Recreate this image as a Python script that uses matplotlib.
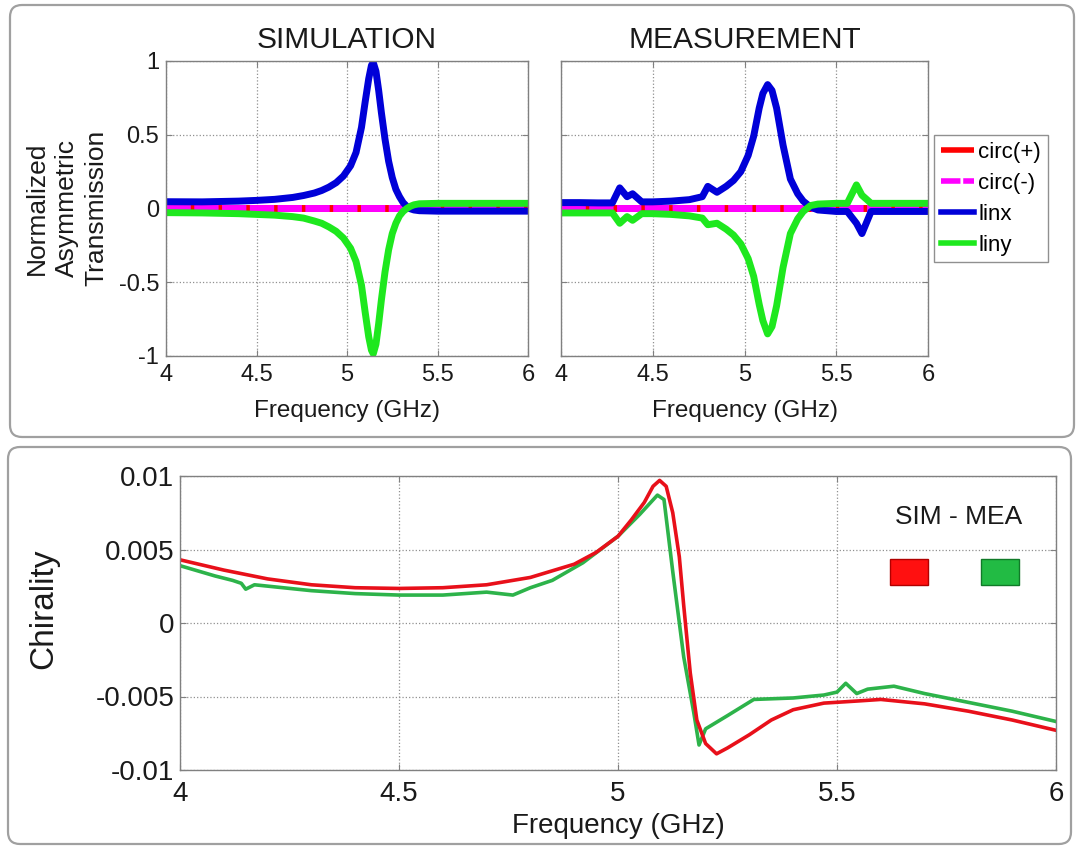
import matplotlib
matplotlib.use("Agg")
import matplotlib.pyplot as plt
from matplotlib.patches import FancyBboxPatch, Rectangle

plt.rcParams['font.family'] = ['Liberation Sans', 'DejaVu Sans']

# ---------------- data ----------------
sim_freq = [4.0, 4.2, 4.4, 4.5, 4.6, 4.7, 4.76, 4.82, 4.86, 4.9, 4.94, 4.98, 5.02, 5.05,
            5.08, 5.1, 5.12, 5.135, 5.145, 5.16, 5.175, 5.19, 5.21, 5.23, 5.25, 5.27,
            5.29, 5.31, 5.33, 5.35, 5.37, 5.4, 5.5, 5.7, 6.0]
sim_linx = [0.046, 0.045, 0.05, 0.055, 0.062, 0.075, 0.088, 0.105, 0.122, 0.145, 0.175,
            0.22, 0.29, 0.38, 0.55, 0.72, 0.88, 0.97, 0.99, 0.93, 0.8, 0.65, 0.47, 0.32,
            0.21, 0.13, 0.08, 0.04, 0.015, -0.002, -0.01, -0.015, -0.018, -0.018, -0.018]
sim_liny = [-0.028, -0.03, -0.035, -0.04, -0.045, -0.055, -0.065, -0.085, -0.1, -0.125,
            -0.155, -0.2, -0.27, -0.36, -0.52, -0.7, -0.87, -0.96, -0.985, -0.92, -0.78,
            -0.62, -0.43, -0.28, -0.17, -0.1, -0.05, -0.02, 0.0, 0.015, 0.025, 0.032,
            0.035, 0.035, 0.035]

circ_freq = [4.0, 6.0]
circ_plus = [0.0, 0.0]
circ_minus = [0.0, 0.0]

mea_freq = [4.0, 4.1, 4.2, 4.28, 4.32, 4.36, 4.39, 4.44, 4.5, 4.6, 4.7, 4.77, 4.8, 4.85,
            4.9, 4.94, 4.98, 5.02, 5.05, 5.08, 5.1, 5.126, 5.15, 5.175, 5.21, 5.25, 5.29,
            5.32, 5.36, 5.4, 5.5, 5.56, 5.61, 5.64, 5.69, 5.75, 6.0]
mea_linx = [0.04, 0.04, 0.038, 0.038, 0.14, 0.08, 0.10, 0.045, 0.045, 0.05, 0.06, 0.08,
            0.15, 0.11, 0.15, 0.19, 0.25, 0.36, 0.49, 0.68, 0.78, 0.84, 0.80, 0.68, 0.43,
            0.20, 0.10, 0.05, 0.01, -0.01, -0.02, -0.02, -0.10, -0.17, -0.02, -0.02, -0.02]
mea_liny = [-0.03, -0.03, -0.03, -0.03, -0.10, -0.055, -0.08, -0.035, -0.035, -0.04,
            -0.05, -0.065, -0.11, -0.10, -0.14, -0.18, -0.24, -0.34, -0.46, -0.65, -0.76,
            -0.85, -0.80, -0.66, -0.40, -0.17, -0.07, -0.02, 0.02, 0.03, 0.035, 0.035,
            0.16, 0.09, 0.035, 0.035, 0.035]

chi_sim_freq = [4.0, 4.1, 4.2, 4.3, 4.4, 4.5, 4.6, 4.7, 4.8, 4.9, 4.95, 5.0, 5.03, 5.06,
                5.08, 5.095, 5.11, 5.125, 5.14, 5.15, 5.165, 5.18, 5.2, 5.225, 5.25, 5.3,
                5.35, 5.4, 5.47, 5.55, 5.6, 5.7, 5.8, 5.9, 6.0]
chi_sim = [0.0043, 0.0036, 0.003, 0.0026, 0.0024, 0.00235, 0.0024, 0.0026, 0.0031, 0.004,
           0.0048, 0.0059, 0.007, 0.0082, 0.0093, 0.0097, 0.0093, 0.0075, 0.0045, 0.0012,
           -0.0034, -0.0066, -0.0082, -0.0089, -0.0085, -0.0076, -0.0066, -0.0059,
           -0.00545, -0.0053, -0.0052, -0.0055, -0.006, -0.0066, -0.0073]

chi_mea_freq = [4.0, 4.08, 4.12, 4.14, 4.15, 4.17, 4.3, 4.4, 4.5, 4.6, 4.7, 4.76, 4.8,
                4.85, 4.92, 4.96, 5.0, 5.05, 5.09, 5.105, 5.125, 5.15, 5.173, 5.185, 5.2,
                5.25, 5.31, 5.4, 5.47, 5.5, 5.52, 5.545, 5.57, 5.63, 5.7, 5.8, 5.9, 6.0]
chi_mea = [0.0039, 0.0032, 0.0029, 0.0027, 0.0023, 0.0026, 0.0022, 0.002, 0.0019, 0.0019,
           0.0021, 0.0019, 0.0024, 0.0029, 0.0041, 0.005, 0.0059, 0.0074, 0.0087, 0.0084,
           0.0035, -0.0023, -0.0061, -0.0083, -0.0072, -0.0063, -0.0052, -0.0051,
           -0.0049, -0.0047, -0.0041, -0.0048, -0.0045, -0.0043, -0.0048, -0.0054,
           -0.006, -0.0067]

freq_ticks = [4, 4.5, 5, 5.5, 6]
freq_ticklabels = ['4', '4.5', '5', '5.5', '6']
at_ticks = [-1, -0.5, 0, 0.5, 1]
at_ticklabels = ['-1', '-0.5', '0', '0.5', '1']
chi_ticks = [-0.01, -0.005, 0, 0.005, 0.01]
chi_ticklabels = ['-0.01', '-0.005', '0', '0.005', '0.01']

# ---------------- figure ----------------
W, H = 1077, 848
fig = plt.figure(figsize=(W / 100, H / 100), dpi=100)


def frac(l, t, r, b):
    return [l / W, 1 - b / H, (r - l) / W, (b - t) / H]


# panel boxes (in inches)
for (l, t, r, b) in [(10, 5, 1074, 437), (8, 447, 1071, 844)]:
    box = FancyBboxPatch((l / 100, (H - b) / 100), (r - l) / 100, (b - t) / 100,
                         boxstyle="round,pad=0,rounding_size=0.12",
                         transform=fig.dpi_scale_trans, facecolor='white',
                         edgecolor='#a0a0a0', linewidth=1.6, zorder=0)
    fig.add_artist(box)

RED = '#ff0000'
MAG = '#ff00ff'
BLUE = '#0000d8'
GREEN = '#1ee81e'
LW = 5.0
grid_kw = dict(color='#909090', linestyle=':', linewidth=0.9)


def style_axes(ax, xsize, ysize):
    ax.set_xlim(4, 6)
    ax.set_xticks(freq_ticks)
    ax.set_xticklabels(freq_ticklabels)
    ax.grid(True, **grid_kw)
    ax.set_axisbelow(True)
    for s in ax.spines.values():
        s.set_color('#808080')
        s.set_linewidth(1.0)
    ax.tick_params(direction='in', top=True, right=True, length=4, width=0.8,
                   color='#808080', labelcolor='#1a1a1a')
    ax.tick_params(axis='x', labelsize=xsize, pad=6)
    ax.tick_params(axis='y', labelsize=ysize, pad=5)


def draw_at(ax, f, lx, ly):
    ax.plot(circ_freq, circ_plus, color=RED, lw=LW, label='circ(+)', solid_capstyle='butt')
    ax.plot(circ_freq, circ_minus, color=MAG, lw=LW, dashes=(3.5, 0.5), label='circ(-)')
    ax.plot(f, lx, color=BLUE, lw=LW, label='linx', solid_joinstyle='round')
    ax.plot(f, ly, color=GREEN, lw=LW, label='liny', solid_joinstyle='round')
    ax.set_ylim(-1, 1)
    ax.set_yticks(at_ticks)


# top-left: simulation
ax1 = fig.add_axes(frac(166, 61, 528, 356))
draw_at(ax1, sim_freq, sim_linx, sim_liny)
style_axes(ax1, 17, 17)
ax1.set_yticklabels(at_ticklabels)
ax1.set_title('SIMULATION', fontsize=21.5, pad=9, color='#1a1a1a')
ax1.set_xlabel('Frequency (GHz)', fontsize=17.5, color='#1a1a1a')
ax1.xaxis.set_label_coords(0.5, -0.15)
fig.text(67 / W, 1 - 208 / H, 'Normalized\nAsymmetric\nTransmission', rotation=90,
         ha='center', va='center', fontsize=19, linespacing=1.3, color='#1a1a1a')

# top-right: measurement
ax2 = fig.add_axes(frac(561, 61, 928, 356))
draw_at(ax2, mea_freq, mea_linx, mea_liny)
style_axes(ax2, 17, 17)
ax2.set_yticklabels([])
ax2.set_title('MEASUREMENT', fontsize=21.5, pad=9, color='#1a1a1a')
ax2.set_xlabel('Frequency (GHz)', fontsize=17.5, color='#1a1a1a')
ax2.xaxis.set_label_coords(0.5, -0.15)

leg = ax2.legend(loc='upper left', bbox_to_anchor=(934 / W, 1 - 135 / H),
                 bbox_transform=fig.transFigure, borderaxespad=0, fontsize=16,
                 frameon=True, fancybox=False, edgecolor='#909090', framealpha=1,
                 handlelength=1.5, handletextpad=0.2, labelspacing=0.45,
                 borderpad=0.3)
leg.get_frame().set_linewidth(1.0)
for h in leg.get_lines():
    h.set_linewidth(4)

# bottom: chirality
ax3 = fig.add_axes(frac(180, 476, 1056, 770))
ax3.plot(chi_mea_freq, chi_mea, color='#2db34a', lw=2.6, solid_joinstyle='round')
ax3.plot(chi_sim_freq, chi_sim, color='#e8101a', lw=2.6, solid_joinstyle='round')
ax3.set_ylim(-0.01, 0.01)
ax3.set_yticks(chi_ticks)
style_axes(ax3, 20, 20)
ax3.set_yticklabels(chi_ticklabels)
ax3.tick_params(axis='y', pad=4)
ax3.tick_params(axis='x', pad=8)
ax3.set_xlabel('Frequency (GHz)', fontsize=20, color='#1a1a1a')
ax3.xaxis.set_label_coords(0.5, -0.145)
ax3.set_ylabel('Chirality', fontsize=24, color='#1a1a1a')
ax3.yaxis.set_label_coords(-0.138, 0.55)

ax3.text(0.889, 0.861, 'SIM - MEA', transform=ax3.transAxes, ha='center', va='center',
         fontsize=19, color='#1a1a1a')
ax3.add_patch(Rectangle((0.8105, 0.629), 0.0434, 0.0884, transform=ax3.transAxes,
                        facecolor='#ff1010', edgecolor='#b00000', lw=1.0))
ax3.add_patch(Rectangle((0.9144, 0.629), 0.0434, 0.0884, transform=ax3.transAxes,
                        facecolor='#22bb44', edgecolor='#107a28', lw=1.0))

fig.savefig('out.png', dpi=100)
